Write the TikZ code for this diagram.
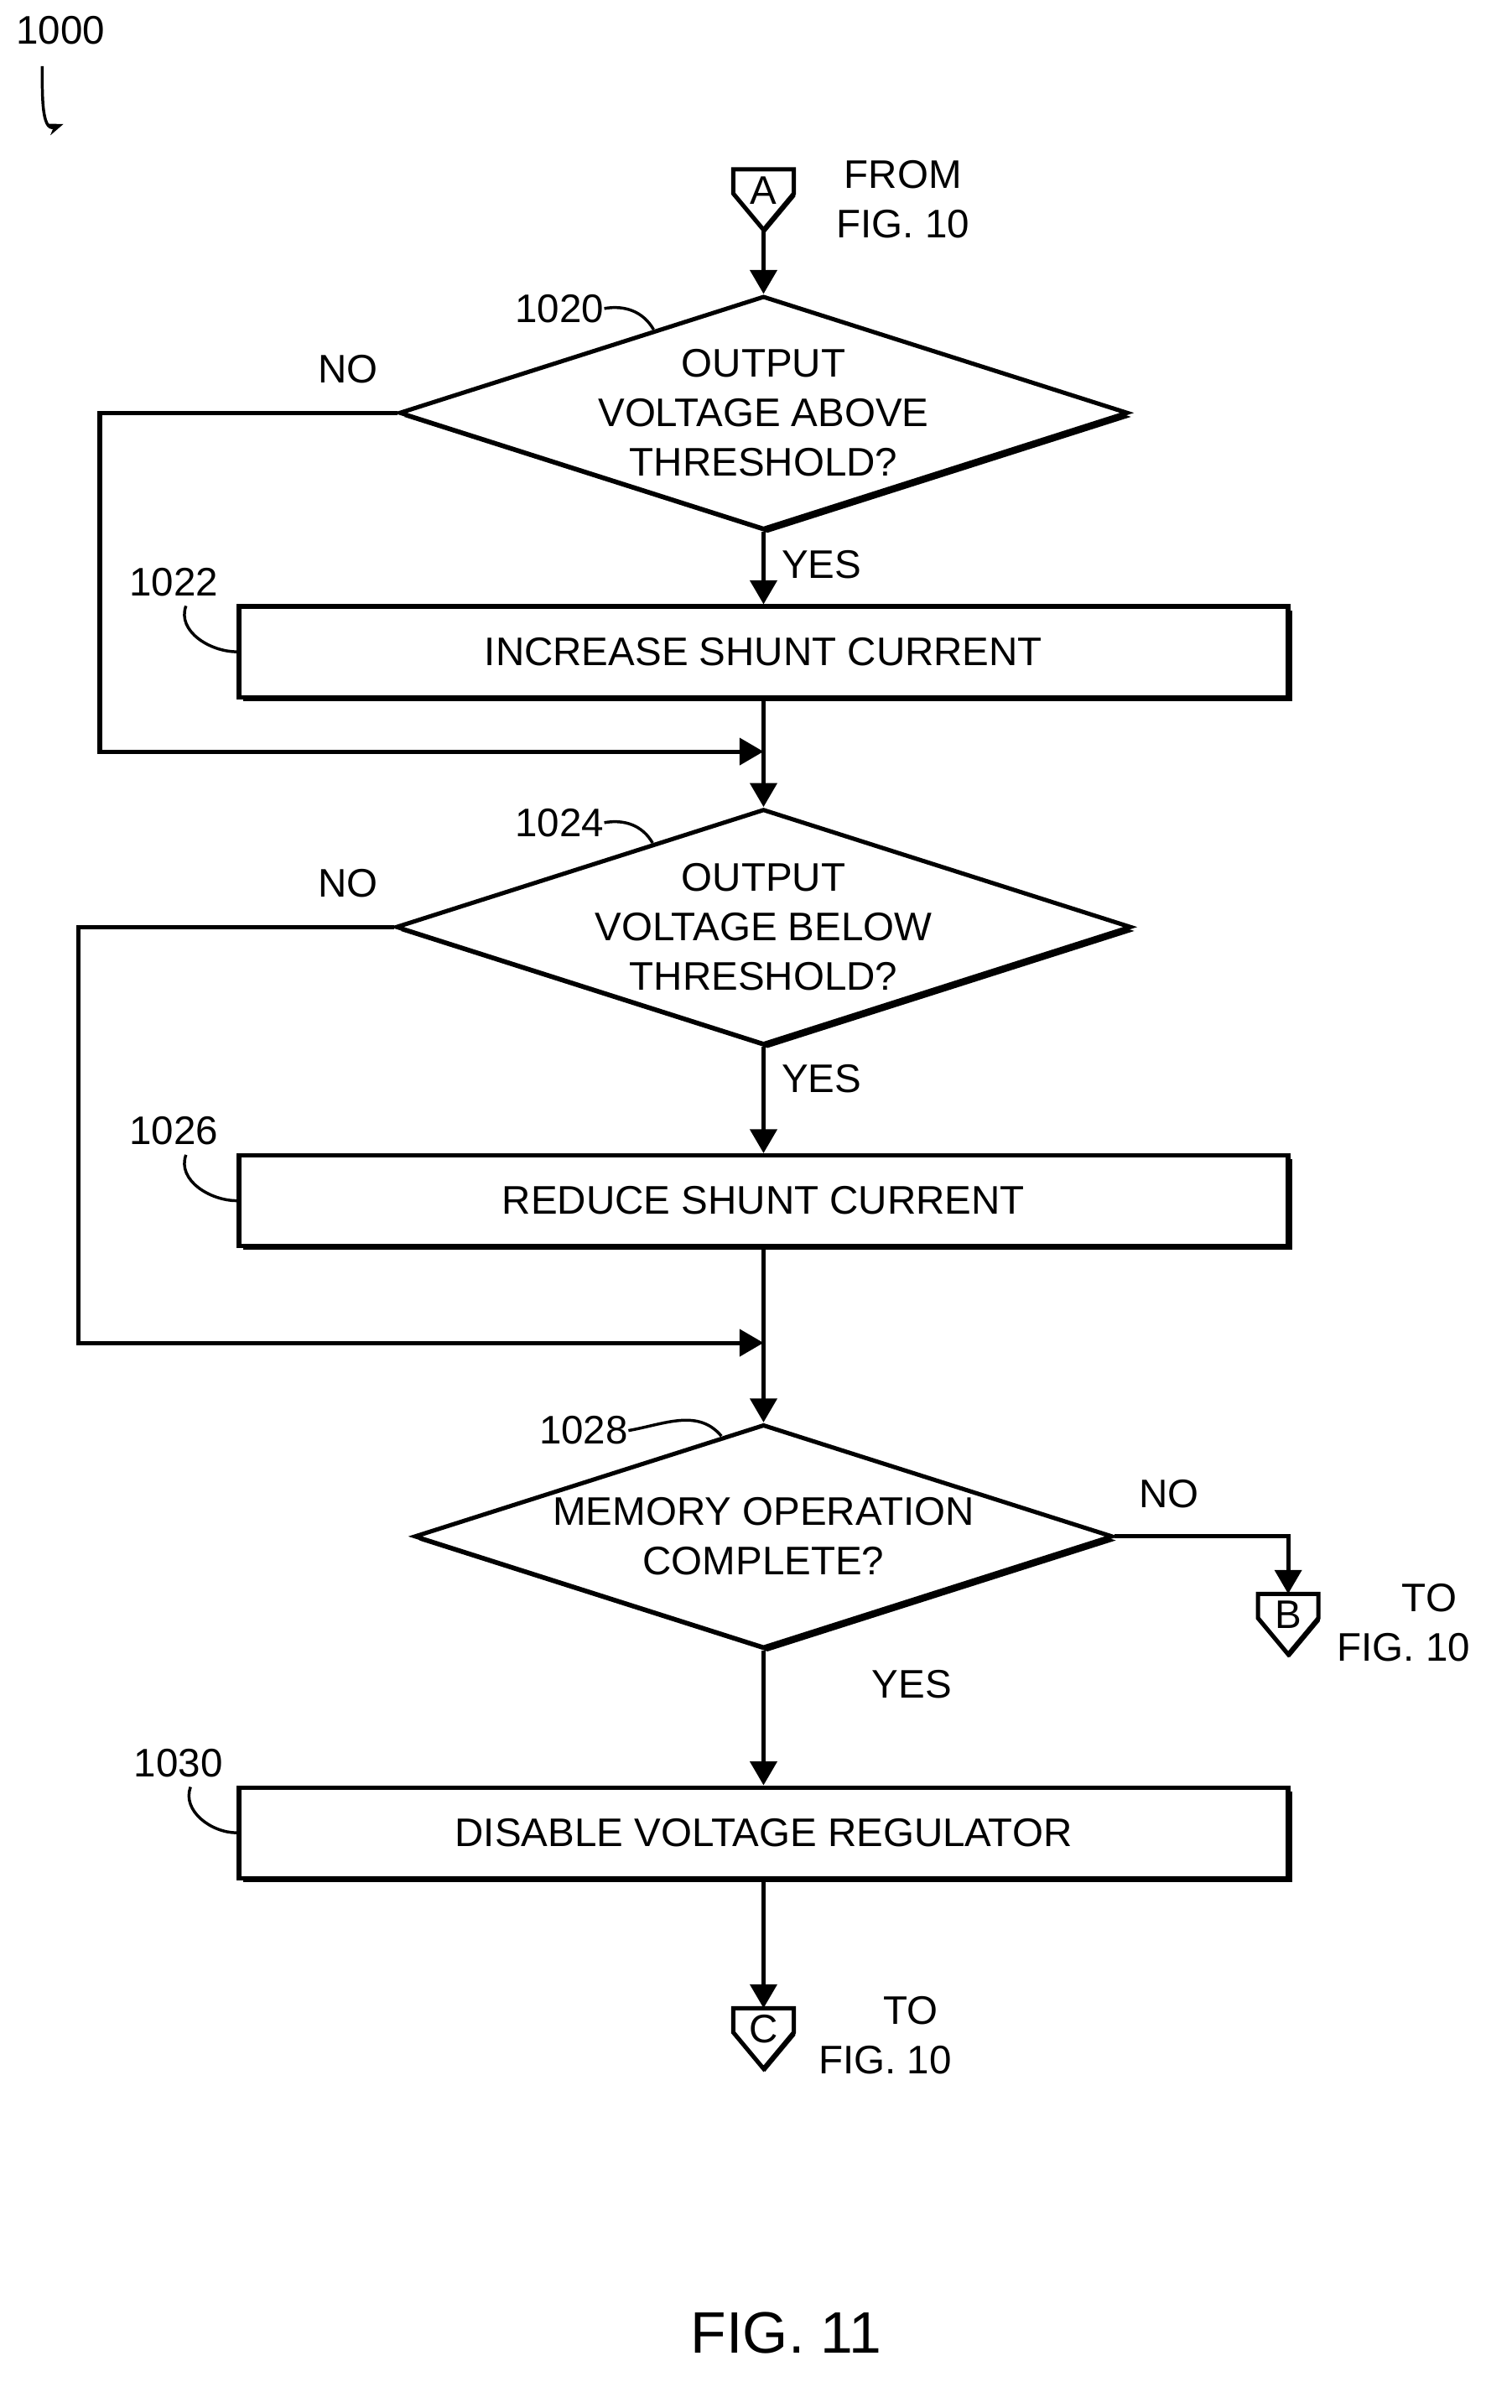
\documentclass[tikz,border=0pt]{standalone}
\usepackage{fontspec}
\setmainfont{Liberation Sans}
\usetikzlibrary{positioning}
\usetikzlibrary{calc}
\usetikzlibrary{arrows.meta}
\usetikzlibrary{shapes.geometric}
\usetikzlibrary{shadows}

\tikzset{
  txt/.style={font=\fontsize{15}{18.7}\selectfont, align=center, inner sep=0pt},
  shad/.style={drop shadow={fill=black, opacity=1, shadow xshift=1.5pt, shadow yshift=-1.5pt}},
  process/.style={draw, line width=1.6pt, fill=white, shad, minimum width=13.88cm, minimum height=1.2cm, txt},
  decision/.style={draw, diamond, line width=1.6pt, fill=white, shad, aspect=3.12, inner sep=0pt,
    minimum width=9.24cm, minimum height=2.96cm, txt},
  arr/.style={line width=1.6pt, -{Triangle[length=9pt, width=10pt]}},
  tag/.style={line width=1.1pt}
}
\newcommand{\offpage}[3]{% name, center top, letter
  \coordinate (#1) at #2;
  \fill[black] ($(#1)+(-19,2)$) -- ++(40,0) -- ++(0,16) -- ($(#1)+(1,42)$) -- ($(#1)+(-19,18)$) -- cycle;
  \filldraw[fill=white, line width=1.6pt] ($(#1)+(-20,0)$) -- ++(40,0) -- ++(0,16) -- ($(#1)+(0,40)$) -- ($(#1)+(-20,16)$) -- cycle;
  \node[txt] at ($(#1)+(0,14)$) {#3};
  \coordinate (#1 tip) at ($(#1)+(0,40)$);
}

\begin{document}
\begin{tikzpicture}[x=0.02cm, y=-0.02cm]
  \useasboundingbox (0,0) rectangle (1000,1592.4);

  % figure number
  \node[txt] (n1000) at (40,20) {1000};
  \coordinate (n1000end) at (42,82);
  \draw[tag, -{Stealth[length=6pt]}] (n1000.south) ++(-12,14) to[out=270, in=200] (n1000end);

  % entry
  \offpage{A}{(505,112)}{A}
  \node[txt, anchor=west] (fromA) at (553,132) {FROM\\FIG. 10};

  \node[decision] (d1020) at (505,273) {OUTPUT\\VOLTAGE ABOVE\\THRESHOLD?};
  \node[txt] (l1020) at (370,204) {1020};
  \draw[tag] (l1020.east) to[out=10, in=120] ($(d1020.north)!0.3!(d1020.west)$);
  \draw[arr] (A tip) -- (d1020.north);

  \node[process] (s1022) at (505,431) {INCREASE SHUNT CURRENT};
  \node[txt] (l1022) at (115,385) {1022};
  \draw[tag] (l1022.south) ++(8,6) to[out=250, in=180] (s1022.west);
  \draw[arr] (d1020.south) -- node[txt, right=6pt, pos=0.45] (yes1) {YES} (s1022.north);

  \coordinate (j1) at (505,497);
  \node[txt] (no1) at (230,244) {NO};
  \draw[arr] (d1020.west) -| (66,497) -- (j1);

  \node[decision] (d1024) at (505,613) {OUTPUT\\VOLTAGE BELOW\\THRESHOLD?};
  \node[txt] (l1024) at (370,544) {1024};
  \draw[tag] (l1024.east) to[out=10, in=120] ($(d1024.north)!0.3!(d1024.west)$);
  \draw[arr] (s1022.south) -- (d1024.north);

  \node[process] (s1026) at (505,794) {REDUCE SHUNT CURRENT};
  \node[txt] (l1026) at (115,748) {1026};
  \draw[tag] (l1026.south) ++(8,6) to[out=250, in=180] (s1026.west);
  \draw[arr] (d1024.south) -- node[txt, right=6pt, pos=0.3] (yes2) {YES} (s1026.north);

  \coordinate (j2) at (505,888);
  \node[txt] (no2) at (230,584) {NO};
  \draw[arr] (d1024.west) -| (52,888) -- (j2);

  \node[decision] (d1028) at (505,1016) {MEMORY OPERATION\\COMPLETE?};
  \node[txt] (l1028) at (386,946) {1028};
  \draw[tag] (l1028.east) to[out=10, in=130] ($(d1028.north)!0.12!(d1028.west)$);
  \draw[arr] (s1026.south) -- (d1028.north);

  % exit B
  \offpage{B}{(852,1054)}{B}
  \node[txt, anchor=west] (toB) at (884,1073) {\hspace*{1.3em}TO\\FIG. 10};
  \node[txt] (no3) at (773,988) {NO};
  \draw[arr] (d1028.east) -| (B);

  \node[process] (s1030) at (505,1212) {DISABLE VOLTAGE REGULATOR};
  \node[txt] (l1030) at (118,1166) {1030};
  \draw[tag] (l1030.south) ++(8,6) to[out=250, in=180] (s1030.west);
  \draw[arr] (d1028.south) -- node[txt, right=40pt, pos=0.25] (yes3) {YES} (s1030.north);

  % exit C
  \offpage{C}{(505,1328)}{C}
  \node[txt, anchor=west] (toC) at (541,1346) {\hspace*{1.3em}TO\\FIG. 10};
  \draw[arr] (s1030.south) -- (C);

  \node[font=\fontsize{22}{26}\selectfont, inner sep=0pt] (fig) at (520,1543) {FIG. 11};
\end{tikzpicture}
\end{document}
